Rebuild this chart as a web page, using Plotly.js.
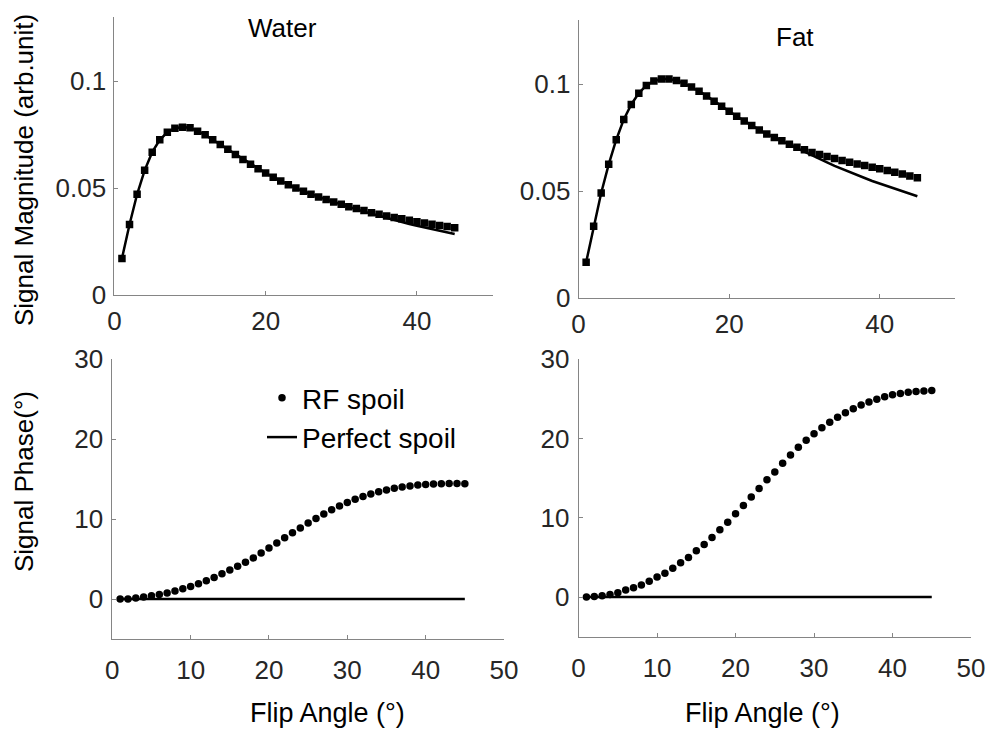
<!DOCTYPE html>
<html>
<head>
<meta charset="utf-8">
<script src="https://cdn.plot.ly/plotly-3.0.1.min.js"></script>
<style>
html,body{margin:0;padding:0;background:#fff;}
#chart{width:990px;height:729px;}
</style>
</head>
<body>
<div id="chart"></div>
<script>
// Flip angles (degrees)
var flipAngles = [1,2,3,4,5,6,7,8,9,10,11,12,13,14,15,16,17,18,19,20,21,22,23,24,25,26,27,28,29,30,31,32,33,34,35,36,37,38,39,40,41,42,43,44,45];

// Signal magnitude (arb.unit)
var waterMagRF = [0.0171,0.0330,0.0471,0.0583,0.0668,0.0726,0.0761,0.0780,0.0785,0.0782,0.0766,0.0749,0.0726,0.0704,0.0681,0.0657,0.0634,0.0612,0.0590,0.0570,0.0551,0.0533,0.0516,0.0500,0.0485,0.0471,0.0458,0.0446,0.0435,0.0424,0.0413,0.0404,0.0395,0.0385,0.0378,0.0370,0.0362,0.0356,0.0350,0.0343,0.0337,0.0331,0.0325,0.0320,0.0314];
var waterMagPerfect = [0.0171,0.0330,0.0471,0.0583,0.0668,0.0726,0.0761,0.0780,0.0785,0.0782,0.0766,0.0749,0.0726,0.0704,0.0681,0.0657,0.0634,0.0612,0.0590,0.0570,0.0551,0.0533,0.0516,0.0500,0.0485,0.0471,0.0458,0.0446,0.0435,0.0423,0.0412,0.0401,0.0390,0.0380,0.0370,0.0359,0.0350,0.0341,0.0332,0.0324,0.0316,0.0308,0.0300,0.0292,0.0285];
var fatMagRF = [0.0167,0.0335,0.0491,0.0625,0.0740,0.0835,0.0905,0.0958,0.0994,0.1015,0.1024,0.1024,0.1017,0.1004,0.0987,0.0967,0.0945,0.0920,0.0897,0.0873,0.0850,0.0828,0.0807,0.0786,0.0767,0.0750,0.0735,0.0719,0.0705,0.0693,0.0680,0.0671,0.0662,0.0652,0.0643,0.0635,0.0627,0.0620,0.0612,0.0604,0.0596,0.0588,0.0580,0.0571,0.0562];
var fatMagPerfect = [0.0167,0.0335,0.0491,0.0625,0.0740,0.0835,0.0905,0.0958,0.0994,0.1015,0.1024,0.1024,0.1017,0.1004,0.0987,0.0967,0.0945,0.0920,0.0897,0.0873,0.0850,0.0828,0.0807,0.0786,0.0767,0.0750,0.0735,0.0719,0.0702,0.0684,0.0667,0.0650,0.0634,0.0618,0.0603,0.0588,0.0574,0.0561,0.0547,0.0535,0.0523,0.0511,0.0500,0.0489,0.0476];

// Signal phase (degrees)
var waterPhaseRF = [0,0,0.12,0.25,0.41,0.58,0.75,1.0,1.29,1.58,1.91,2.29,2.71,3.16,3.64,4.1,4.6,5.15,5.75,6.38,7.02,7.66,8.28,8.9,9.5,10.08,10.64,11.16,11.64,12.08,12.48,12.83,13.14,13.42,13.66,13.86,14.02,14.15,14.26,14.34,14.40,14.43,14.45,14.45,14.44];
var fatPhaseRF = [0,0.08,0.17,0.34,0.55,0.88,1.18,1.51,2.01,2.52,3.02,3.65,4.33,5.0,5.84,6.64,7.52,8.49,9.45,10.5,11.55,12.64,13.69,14.79,15.79,16.88,17.94,18.9,19.8,20.6,21.35,22.05,22.68,23.25,23.76,24.22,24.62,24.97,25.27,25.52,25.7,25.84,25.94,26.01,26.06];
var perfectPhase = [0,0,0,0,0,0,0,0,0,0,0,0,0,0,0,0,0,0,0,0,0,0,0,0,0,0,0,0,0,0,0,0,0,0,0,0,0,0,0,0,0,0,0,0,0];

// Labels
var panelTitles = ["Water", "Fat"];
var magTicks = [0, 0.05, 0.1];
var magTickText = ["0", "0.05", "0.1"];
var topXTicks = [0, 20, 40];
var phaseTicks = [0, 10, 20, 30];
var bottomXTicks = [0, 10, 20, 30, 40, 50];
var seriesNames = ["RF spoil", "Perfect spoil"];
var magYTitle = "Signal Magnitude (arb.unit)";
var phaseYTitle = "Signal Phase(°)";
var xTitle = "Flip Angle (°)";

var FONT = "Liberation Sans, Arial, Helvetica, sans-serif";
var W = 990, H = 729;
function px(x){ return x / W; }
function py(y){ return 1 - y / H; }

var lineStyle = {color: "#000000", width: 2.5};
function rf(x, y, xa, ya, sym, show){
  return {x: x, y: y, xaxis: xa, yaxis: ya, type: "scatter", mode: "markers",
    name: seriesNames[0], showlegend: show,
    marker: {symbol: sym, size: 7.5, color: "#000000"}};
}
function perf(x, y, xa, ya, show){
  return {x: x, y: y, xaxis: xa, yaxis: ya, type: "scatter", mode: "lines",
    name: seriesNames[1], showlegend: show, line: lineStyle};
}

var data = [
  perf(flipAngles, waterMagPerfect, "x", "y", false),
  rf(flipAngles, waterMagRF, "x", "y", "square", false),
  perf(flipAngles, fatMagPerfect, "x2", "y2", false),
  rf(flipAngles, fatMagRF, "x2", "y2", "square", false),
  rf(flipAngles, waterPhaseRF, "x3", "y3", "circle", true),
  perf(flipAngles, perfectPhase, "x3", "y3", true),
  rf(flipAngles, fatPhaseRF, "x4", "y4", "circle", false),
  perf(flipAngles, perfectPhase, "x4", "y4", false)
];

function axisBase(extra){
  var a = {
    showline: true, linecolor: "#858585", linewidth: 1,
    ticks: "inside", ticklen: 4, tickwidth: 1, tickcolor: "#858585",
    showgrid: false, zeroline: false, mirror: false,
    tickfont: {family: FONT, size: 26, color: "#262626"},
    fixedrange: true
  };
  for (var k in extra) a[k] = extra[k];
  return a;
}

var layout = {
  width: W, height: H,
  margin: {l: 0, r: 0, t: 0, b: 0},
  paper_bgcolor: "#ffffff", plot_bgcolor: "#ffffff",
  showlegend: true,
  legend: {x: px(262), y: py(373), xanchor: "left", yanchor: "top",
    bgcolor: "rgba(0,0,0,0)", borderwidth: 0, traceorder: "normal",
    font: {family: FONT, size: 28, color: "#000000"}, tracegroupgap: 0, itemwidth: 30},
  xaxis: axisBase({domain: [px(114.4), px(492.5)], range: [0, 50], tickvals: topXTicks, anchor: "y", ticklabelstandoff: 3}),
  yaxis: axisBase({domain: [py(295), py(17)], range: [0, 0.13], tickvals: magTicks, ticktext: magTickText, anchor: "x", ticklabelstandoff: 2}),
  xaxis2: axisBase({domain: [px(578.6), px(955)], range: [0, 50], tickvals: topXTicks, anchor: "y2", ticklabelstandoff: 3}),
  yaxis2: axisBase({domain: [py(298), py(20)], range: [0, 0.13], tickvals: magTicks, ticktext: magTickText, anchor: "x2", ticklabelstandoff: 2}),
  xaxis3: axisBase({domain: [px(112.3), px(504)], range: [0, 50], tickvals: bottomXTicks, anchor: "y3", ticklabelstandoff: 8}),
  yaxis3: axisBase({domain: [py(639), py(359.3)], range: [-5, 30], tickvals: phaseTicks, anchor: "x3", ticklabelstandoff: 3}),
  xaxis4: axisBase({domain: [px(578.6), px(971)], range: [0, 50], tickvals: bottomXTicks, anchor: "y4", ticklabelstandoff: 8}),
  yaxis4: axisBase({domain: [py(636.7), py(359.3)], range: [-5, 30], tickvals: phaseTicks, anchor: "x4", ticklabelstandoff: 3}),
  annotations: [
    {text: panelTitles[0], xref: "paper", yref: "paper", x: px(282), y: py(28), xanchor: "center", yanchor: "middle", showarrow: false, font: {family: FONT, size: 26, color: "#000000"}},
    {text: panelTitles[1], xref: "paper", yref: "paper", x: px(795), y: py(37), xanchor: "center", yanchor: "middle", showarrow: false, font: {family: FONT, size: 26, color: "#000000"}},
    {text: magYTitle, xref: "paper", yref: "paper", x: px(24), y: py(170), xanchor: "center", yanchor: "middle", textangle: -90, showarrow: false, font: {family: FONT, size: 26, color: "#000000"}},
    {text: phaseYTitle, xref: "paper", yref: "paper", x: px(24), y: py(482), xanchor: "center", yanchor: "middle", textangle: -90, showarrow: false, font: {family: FONT, size: 26, color: "#000000"}},
    {text: xTitle, xref: "paper", yref: "paper", x: px(327), y: py(713), xanchor: "center", yanchor: "middle", showarrow: false, font: {family: FONT, size: 27, color: "#000000"}},
    {text: xTitle, xref: "paper", yref: "paper", x: px(762), y: py(713), xanchor: "center", yanchor: "middle", showarrow: false, font: {family: FONT, size: 27, color: "#000000"}}
  ]
};

Plotly.newPlot("chart", data, layout, {staticPlot: true, displayModeBar: false});
</script>
</body>
</html>
